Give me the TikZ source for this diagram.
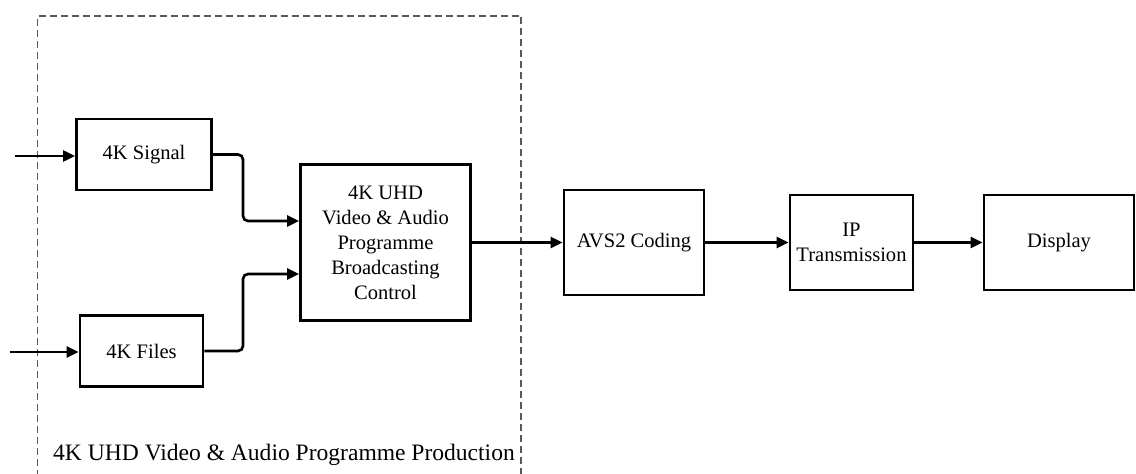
\documentclass[tikz,border=0pt]{standalone}
\usepackage{fontspec}
\setmainfont{Liberation Serif}
\usepackage{tikz}
\usetikzlibrary{arrows.meta, calc}
\tikzstyle{block} = [rectangle, draw, line width=1.6pt, align=center, inner sep=2pt, font=\fontsize{11.7}{14.2}\selectfont]
\tikzstyle{line} = [draw, line width=1.5pt, -{Triangle[length=0.24cm, width=0.22cm]}]
\tikzstyle{frame} = [draw, gray!70!black, line width=0.6pt, dash pattern=on 0.14cm off 0.08cm]

\begin{document}
\begin{tikzpicture}
			\useasboundingbox (0,0) rectangle (22.72,9.48);

			% production stage
			\path [frame] (0.75,-0.5) -- (0.75,9.16) -- (10.42,9.16) -- (10.42,-0.5);
			\node [anchor=base west, font=\fontsize{13.4}{16}\selectfont] (prodlabel) at (0.94,0.26) {4K UHD Video \& Audio Programme Production};

			\node [block, minimum width=2.7cm, minimum height=1.42cm] (signal) at (2.88,6.39) {4K Signal};
			\node [block, minimum width=2.46cm, minimum height=1.42cm] (files) at (2.83,2.46) {4K Files};
			\node [block, minimum width=3.4cm, minimum height=3.12cm] (ctrl) at (7.71,4.63) {4K UHD\\Video \& Audio\\Programme\\Broadcasting\\Control};

			% distribution chain
			\node [block, minimum width=2.8cm, minimum height=2.1cm] (avs) at (12.68,4.63) {AVS2 Coding};
			\node [block, minimum width=2.46cm, minimum height=1.9cm] (ip) at (17.03,4.63) {IP\\Transmission};
			\node [block, minimum width=3.0cm, minimum height=1.9cm] (disp) at (21.18,4.63) {Display};

			\coordinate (signalin) at (0.3,6.36);
			\coordinate (filesin) at (0.2,2.44);
			\coordinate (bend) at (4.86,0);
			\coordinate (ctrlin1) at ($(ctrl.west)+(0,0.43)$);
			\coordinate (ctrlin2) at ($(ctrl.west)+(0,-0.63)$);

			\path [line] (signalin) -- (signalin -| signal.west);
			\path [line] (filesin) -- (filesin -| files.west);
			\path [line, rounded corners=0.1cm] (signal.east) -| (bend |- ctrlin1) -- (ctrlin1);
			\path [line, rounded corners=0.1cm] (files.east) -| (bend |- ctrlin2) -- (ctrlin2);
			\path [line] (ctrl) -- (avs);
			\path [line] (avs) -- (ip);
			\path [line] (ip) -- (disp);
		\end{tikzpicture}
\end{document}
